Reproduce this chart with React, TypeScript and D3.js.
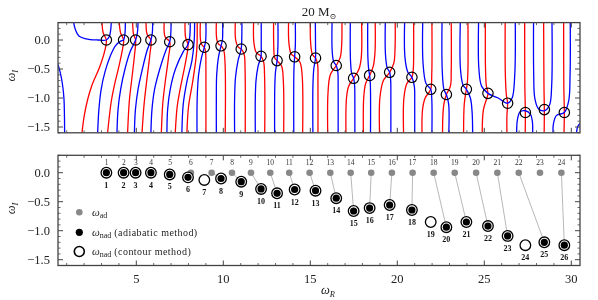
import React from 'react';
import * as d3 from 'd3';

// modes: adiabatic (grey) and non-adiabatic (black / open) frequencies
const adX = [3.30, 4.28, 4.97, 5.85, 6.95, 8.14, 9.33, 10.5, 11.59, 12.7, 13.79, 14.96, 16.15, 17.32, 18.5, 19.69, 20.88, 22.09, 23.3, 24.53, 25.75, 26.98, 28.2, 29.43];
const adY = adX.map(() => 0);
const nadX = [3.28, 4.27, 4.96, 5.84, 6.92, 7.97, 8.91, 9.87, 11.03, 12.17, 13.09, 14.1, 15.3, 16.49, 17.49, 18.41, 19.56, 20.84, 21.92, 22.82, 23.97, 25.21, 26.34, 27.36, 28.45, 29.6];
const nadY = [0, 0, 0, 0, -0.03, -0.08, -0.125, -0.1, -0.155, -0.28, -0.355, -0.29, -0.31, -0.44, -0.66, -0.61, -0.557, -0.643, -0.85, -0.94, -0.85, -0.92, -1.09, -1.25, -1.2, -1.25];
const contourOnly = [7, 19, 24];
// grey mode -> nad mode (1-based)
const links = [[1, 1], [2, 2], [3, 3], [4, 4], [5, 5], [6, 6], [7, 8], [8, 9], [9, 10], [10, 11], [11, 12], [12, 13], [13, 14], [14, 15], [15, 16], [16, 17], [17, 18], [18, 20], [19, 21], [20, 22], [21, 23], [22, 25], [24, 26]];

// zero contours (red / blue) in (omega_R, omega_I)
const redCurves = [
  [[3.03, 0.3], [3.1, 0.12], [3.28, 0], [3.2, -0.17], [2.9, -0.46], [2.45, -0.78], [2.2, -1.03], [2.0, -1.32], [1.88, -1.6]],
  [[4.02, 0.3], [4.1, 0.12], [4.27, 0], [4.18, -0.2], [3.98, -0.48], [3.75, -0.77], [3.56, -1.06], [3.35, -1.6]],
  [[4.79, 0.3], [4.84, 0.1], [4.96, 0], [4.9, -0.25], [4.75, -0.65], [4.6, -1.05], [4.5, -1.6]],
  [[5.56, 0.3], [5.62, 0.1], [5.84, 0], [5.78, -0.25], [5.6, -0.7], [5.45, -1.1], [5.33, -1.6]],
  [[6.6, 0.3], [6.66, 0.05], [6.92, -0.03], [6.85, -0.3], [6.65, -0.75], [6.52, -1.1], [6.44, -1.6]],
  [[7.8, 0.3], [7.83, 0.05], [7.97, -0.08], [7.85, -0.35], [7.55, -0.8], [7.35, -1.15], [7.24, -1.6]],
  [[8.5, 0.3], [8.47, -0.2], [8.25, -0.7], [8.0, -1.15], [7.91, -1.6]],
  [[8.68, 0.3], [8.69, 0.0], [8.78, -0.09], [8.91, -0.125], [8.98, -0.2], [9.0, -0.45], [9.0, -1.6]],
  [[9.6, 0.3], [9.62, 0.02], [9.72, -0.07], [9.87, -0.1], [10.02, -0.17], [10.1, -0.4], [10.11, -1.6]],
  [[10.69, 0.3], [10.71, 0.0], [10.85, -0.12], [11.03, -0.155], [11.2, -0.25], [11.25, -0.5], [11.26, -1.6]],
  [[11.74, 0.3], [11.76, -0.05], [11.9, -0.22], [12.17, -0.28], [12.32, -0.38], [12.37, -0.6], [12.38, -1.6]],
  [[12.89, 0.3], [12.9, -0.1], [12.95, -0.3], [13.09, -0.355], [13.35, -0.45], [13.45, -0.7], [13.47, -1.6]],
  [[13.75, 0.3], [13.77, -0.05], [13.9, -0.24], [14.1, -0.29], [14.4, -0.38], [14.53, -0.6], [14.56, -1.6]],
  [[15.0, 0.3], [15.02, -0.05], [15.12, -0.25], [15.3, -0.31], [15.42, -0.42], [15.44, -0.7], [15.44, -1.6]],
  [[16.0, -1.6], [16.02, -0.9], [16.15, -0.6], [16.49, -0.44], [16.72, -0.3], [16.8, -0.1], [16.82, 0.3]],
  [[17.05, -1.6], [17.08, -1.0], [17.2, -0.8], [17.49, -0.66], [17.8, -0.5], [17.93, -0.3], [17.95, 0.3]],
  [[18.05, -1.6], [18.07, -1.0], [18.18, -0.75], [18.41, -0.61], [18.62, -0.45], [18.72, -0.2], [18.73, 0.3]],
  [[18.98, -1.6], [19.0, -1.0], [19.2, -0.7], [19.56, -0.557], [19.8, -0.4], [19.87, -0.15], [19.88, 0.3]],
  [[20.36, -1.6], [20.38, -1.0], [20.55, -0.75], [20.84, -0.643], [20.92, -0.5], [20.94, -0.2], [20.94, 0.3]],
  [[21.42, -1.6], [21.45, -1.2], [21.6, -1.0], [21.92, -0.85], [21.98, -0.6], [21.99, 0.3]],
  [[23.1, 0.3], [23.1, -0.5], [23.05, -0.8], [22.82, -0.94], [22.68, -1.1], [22.62, -1.3], [22.6, -1.6]],
  [[24.06, 0.3], [24.06, -0.5], [24.02, -0.75], [23.97, -0.85], [23.85, -1.1], [23.81, -1.6]],
  [[25.06, 0.3], [25.07, -0.5], [25.12, -0.8], [25.21, -0.92], [24.95, -1.2], [24.88, -1.6]],
  [[26.2, 0.3], [26.21, -0.6], [26.27, -0.95], [26.34, -1.09], [26.3, -1.3], [26.3, -1.6]],
  [[27.32, 0.3], [27.33, -0.8], [27.36, -1.25], [27.35, -1.6]],
  [[28.41, 0.3], [28.43, -0.8], [28.45, -1.2], [28.44, -1.6]],
  [[29.56, 0.3], [29.57, -0.8], [29.6, -1.25], [29.58, -1.6]],
];

const blueCurves = [
  [[0.5, -0.42], [0.62, -0.55], [0.75, -0.75], [0.84, -1.0], [0.87, -1.3], [0.88, -1.6]],
  [[1.4, 0.3], [1.5, 0.18], [1.7, 0.07], [2.1, 0.02], [2.8, 0.0], [3.28, 0.0], [3.45, 0.06], [3.53, 0.18], [3.56, 0.3]],
  [[2.78, -1.6], [2.85, -1.2], [2.98, -0.85], [3.2, -0.55], [3.5, -0.28], [3.8, -0.1], [4.1, -0.02], [4.27, 0], [4.35, 0.12], [4.37, 0.3]],
  [[3.89, -1.6], [3.95, -1.2], [4.1, -0.85], [4.35, -0.5], [4.65, -0.2], [4.96, 0], [5.06, 0.12], [5.1, 0.3]],
  [[4.89, -1.6], [4.95, -1.2], [5.1, -0.85], [5.35, -0.5], [5.62, -0.18], [5.84, 0], [5.92, 0.12], [5.94, 0.3]],
  [[5.84, -1.6], [5.9, -1.2], [6.05, -0.85], [6.35, -0.5], [6.7, -0.18], [6.92, -0.03], [6.98, 0.1], [7.0, 0.3]],
  [[6.76, -1.6], [6.8, -1.2], [6.95, -0.85], [7.25, -0.5], [7.7, -0.2], [7.97, -0.08], [8.07, 0.05], [8.1, 0.3]],
  [[7.62, -1.6], [7.7, -1.1], [7.92, -0.7], [8.2, -0.35], [8.33, 0.0], [8.35, 0.3]],
  [[9.0, 0.3], [8.99, 0.0], [8.91, -0.125], [8.75, -0.3], [8.58, -0.6], [8.5, -1.0], [8.49, -1.6]],
  [[9.96, 0.3], [9.95, 0.0], [9.87, -0.1], [9.72, -0.3], [9.62, -0.6], [9.6, -1.0], [9.6, -1.6]],
  [[11.07, 0.3], [11.06, 0.0], [11.03, -0.155], [10.85, -0.35], [10.7, -0.65], [10.65, -1.0], [10.65, -1.6]],
  [[12.18, 0.3], [12.18, -0.1], [12.17, -0.28], [12.0, -0.45], [11.88, -0.7], [11.84, -1.0], [11.84, -1.6]],
  [[13.14, 0.3], [13.14, -0.1], [13.09, -0.355], [13.0, -0.55], [12.96, -0.8], [12.95, -1.6]],
  [[14.14, 0.3], [14.14, -0.1], [14.1, -0.29], [14.06, -0.5], [14.05, -1.6]],
  [[15.29, 0.3], [15.3, -0.1], [15.3, -0.31], [15.2, -0.5], [15.15, -0.8], [15.15, -1.6]],
  [[16.25, 0.3], [16.26, -0.2], [16.35, -0.38], [16.49, -0.44], [16.58, -0.55], [16.6, -0.8], [16.6, -1.6]],
  [[17.3, 0.3], [17.31, -0.35], [17.38, -0.58], [17.49, -0.66], [17.55, -0.8], [17.56, -1.0], [17.56, -1.6]],
  [[18.3, 0.3], [18.31, -0.3], [18.36, -0.52], [18.41, -0.61], [18.45, -0.75], [18.46, -1.6]],
  [[19.31, 0.3], [19.32, -0.25], [19.42, -0.48], [19.56, -0.557], [19.62, -0.7], [19.63, -1.0], [19.63, -1.6]],
  [[20.42, 0.3], [20.44, -0.3], [20.6, -0.55], [20.84, -0.643], [20.98, -0.8], [21.0, -1.1], [21.0, -1.6]],
  [[21.46, 0.3], [21.48, -0.4], [21.65, -0.75], [21.92, -0.85], [21.98, -1.0], [21.99, -1.6]],
  [[22.57, 0.3], [22.58, -0.5], [22.68, -0.85], [22.82, -0.94], [22.95, -1.1], [22.96, -1.6]],
  [[23.62, 0.3], [23.63, -0.5], [23.78, -0.78], [23.97, -0.85], [24.2, -1.0], [24.3, -1.25], [24.33, -1.6]],
  [[24.67, 0.3], [24.69, -0.5], [24.85, -0.8], [25.21, -0.92], [25.8, -1.0], [26.34, -1.09], [26.6, -1.0], [26.75, -0.6], [26.78, 0.3]],
  [[26.86, -1.6], [26.9, -1.38], [27.05, -1.24], [27.36, -1.22], [27.65, -1.28], [27.76, -1.4], [27.78, -1.6]],
  [[27.83, 0.3], [27.84, -0.6], [27.9, -1.0], [28.1, -1.18], [28.45, -1.22], [28.75, -1.12], [28.87, -0.8], [28.89, 0.3]],
  [[28.95, -1.6], [28.97, -1.45], [29.15, -1.3], [29.6, -1.25], [29.85, -1.05], [29.93, -0.6], [29.94, 0.3]],
  [[30.3, -1.6], [30.36, -1.5], [30.5, -1.44]],
];

const yMajor = [0, -0.5, -1.0, -1.5];
const yMajorLabels = ['0.0', '−0.5', '−1.0', '−1.5'];
const xMajor = [5, 10, 15, 20, 25, 30];
const xMajorLabels = ['5', '10', '15', '20', '25', '30'];

const FONT = "'Liberation Serif', 'DejaVu Serif', serif";
const L = 58, R = 580;
const x = d3.scaleLinear().domain([0.5, 30.5]).range([L, R]);
const yTop = d3.scaleLinear().domain([-1.6, 0.3]).range([132.8, 22.6]);
const yBot = d3.scaleLinear().domain([-1.6, 0.3]).range([265.5, 155.3]);

const xMinor = d3.range(1, 31, 1).filter(v => v % 5 !== 0);
const yMinor = d3.range(-16, 4, 1).map(v => v / 10).filter(v => Math.abs(v * 2 - Math.round(v * 2)) > 1e-6);

function Frame({ y, showX }) {
  const [y0, y1] = y.range();
  const stroke = '#444';
  return (
    <g>
      {xMajor.map(v => (
        <g key={'xM' + v}>
          <line x1={x(v)} x2={x(v)} y1={y0} y2={y0 - 5} stroke={stroke} strokeWidth={1} />
          <line x1={x(v)} x2={x(v)} y1={y1} y2={y1 + 5} stroke={stroke} strokeWidth={1} />
        </g>
      ))}
      {xMinor.map(v => (
        <g key={'xm' + v}>
          <line x1={x(v)} x2={x(v)} y1={y0} y2={y0 - 2.5} stroke={stroke} strokeWidth={0.8} />
          <line x1={x(v)} x2={x(v)} y1={y1} y2={y1 + 2.5} stroke={stroke} strokeWidth={0.8} />
        </g>
      ))}
      {yMajor.map(v => (
        <g key={'yM' + v}>
          <line x1={L} x2={L + 5} y1={y(v)} y2={y(v)} stroke={stroke} strokeWidth={1} />
          <line x1={R} x2={R - 5} y1={y(v)} y2={y(v)} stroke={stroke} strokeWidth={1} />
        </g>
      ))}
      {yMinor.map(v => (
        <g key={'ym' + v}>
          <line x1={L} x2={L + 2.5} y1={y(v)} y2={y(v)} stroke={stroke} strokeWidth={0.8} />
          <line x1={R} x2={R - 2.5} y1={y(v)} y2={y(v)} stroke={stroke} strokeWidth={0.8} />
        </g>
      ))}
      <rect x={L} y={y1} width={R - L} height={y0 - y1} fill="none" stroke={stroke} strokeWidth={1.3} />
      {yMajor.map((v, i) => (
        <text key={'yl' + v} x={L - 8} y={y(v) + 4.2} textAnchor="end" fontSize={12.5} fontFamily={FONT} fill="#222">{yMajorLabels[i]}</text>
      ))}
      {showX && xMajor.map((v, i) => (
        <text key={'xl' + v} x={x(v)} y={y0 + 17.5} textAnchor="middle" fontSize={12.5} fontFamily={FONT} fill="#222">{xMajorLabels[i]}</text>
      ))}
      <text transform={`translate(15,${(y0 + y1) / 2 - 2}) rotate(-90)`} textAnchor="middle" fontSize={12.5} fontFamily={FONT} fill="#222">
        <tspan fontStyle="italic">ω</tspan><tspan fontStyle="italic" fontSize={8.5} dy={3}>I</tspan>
      </text>
    </g>
  );
}

export default function App() {
  const lineTop = d3.line().x(d => x(d[0])).y(d => yTop(d[1])).curve(d3.curveCatmullRom.alpha(0.5));
  const adiab = nadX.map((v, i) => i).filter(i => !contourOnly.includes(i + 1));
  return (
    <svg width={598} height={300} style={{ position: 'absolute', left: 0, top: 0, willChange: 'transform' }}>
      <defs>
        <clipPath id="clipTop"><rect x={L} y={yTop.range()[1]} width={R - L} height={yTop.range()[0] - yTop.range()[1]} /></clipPath>
      </defs>
      <text x={(L + R) / 2} y={16} textAnchor="middle" fontSize={13} fontFamily={FONT} fill="#222">
        20 M<tspan fontSize={8} dy={3}>⊙</tspan>
      </text>

      {/* top panel: zero contours */}
      <g clipPath="url(#clipTop)">
        {redCurves.map((c, i) => (
          <path key={'r' + i} d={lineTop(c)} fill="none" stroke="#ff0000" strokeWidth={1.3} />
        ))}
        {blueCurves.map((c, i) => (
          <path key={'b' + i} d={lineTop(c)} fill="none" stroke="#0000ff" strokeWidth={1.3} />
        ))}
        {nadX.map((v, i) => (
          <circle key={'c' + i} cx={x(v)} cy={yTop(nadY[i])} r={5.2} fill="none" stroke="#000" strokeWidth={1.2} />
        ))}
      </g>
      <Frame y={yTop} showX={false} />

      {/* bottom panel: modes */}
      {links.map(([a, b]) => (
        <line key={'l' + a} x1={x(adX[a - 1])} y1={yBot(adY[a - 1])} x2={x(nadX[b - 1])} y2={yBot(nadY[b - 1])} stroke="#999" strokeWidth={0.7} />
      ))}
      {adX.map((v, i) => (
        <g key={'a' + i}>
          <circle cx={x(v)} cy={yBot(adY[i])} r={3.3} fill="#888" />
          <text x={x(v)} y={yBot(adY[i]) - 8} textAnchor="middle" fontSize={7.5} fontFamily={FONT} fill="#333">{i + 1}</text>
        </g>
      ))}
      {nadX.map((v, i) => (
        <g key={'n' + i}>
          <circle cx={x(v)} cy={yBot(nadY[i])} r={5.3} fill="#fff" stroke="#000" strokeWidth={1.3} />
          <text x={x(v)} y={yBot(nadY[i]) + 15} textAnchor="middle" fontSize={8} fontWeight="bold" fontFamily={FONT} fill="#111">{i + 1}</text>
        </g>
      ))}
      {adiab.map(i => (
        <circle key={'d' + i} cx={x(nadX[i])} cy={yBot(nadY[i])} r={3.6} fill="#000" />
      ))}

      {/* legend */}
      <g fontFamily={FONT} fontSize={10} fill="#222">
        <circle cx={79.3} cy={212.3} r={3.3} fill="#888" />
        <text x={92} y={215.5}><tspan fontStyle="italic" fontSize={11}>ω</tspan><tspan fontSize={8} dy={2.5}>ad</tspan></text>
        <circle cx={79.3} cy={232.3} r={3.6} fill="#000" />
        <text x={92} y={235.5}><tspan fontStyle="italic" fontSize={11}>ω</tspan><tspan fontSize={8} dy={2.5}>nad</tspan><tspan dy={-2.5} letterSpacing={0.45}> (adiabatic method)</tspan></text>
        <circle cx={79.3} cy={251.5} r={5} fill="#fff" stroke="#000" strokeWidth={1.6} />
        <text x={92} y={254.5}><tspan fontStyle="italic" fontSize={11}>ω</tspan><tspan fontSize={8} dy={2.5}>nad</tspan><tspan dy={-2.5} letterSpacing={0.45}> (contour method)</tspan></text>
      </g>

      <Frame y={yBot} showX={true} />
      <text x={328} y={294} textAnchor="middle" fontSize={12.5} fontFamily={FONT} fill="#222">
        <tspan fontStyle="italic">ω</tspan><tspan fontStyle="italic" fontSize={8.5} dy={3}>R</tspan>
      </text>
    </svg>
  );
}
